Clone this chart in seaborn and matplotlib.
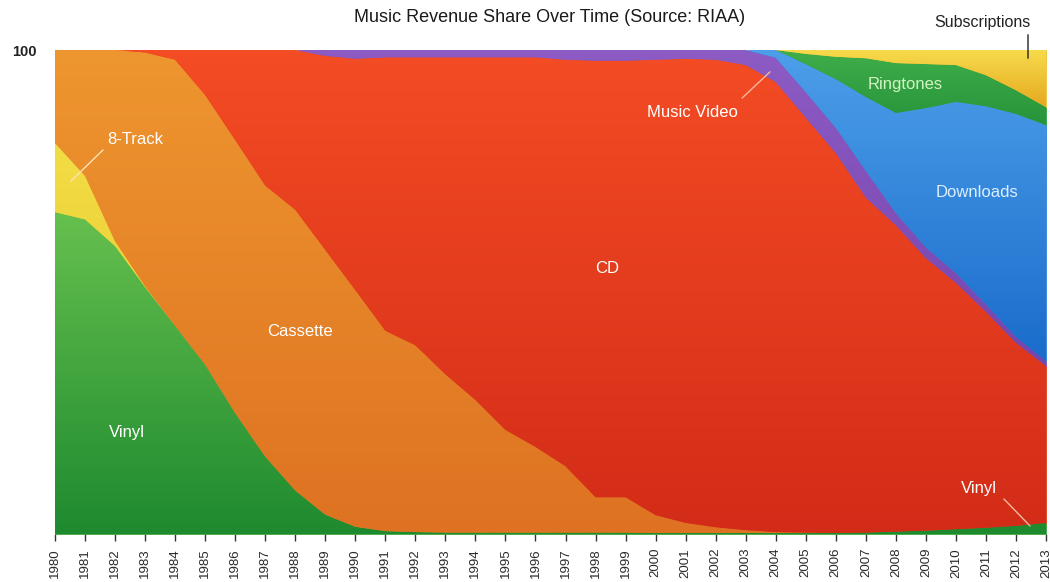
import numpy as np
import pandas as pd
import matplotlib
matplotlib.use("Agg")
import matplotlib.pyplot as plt
import seaborn as sns
from matplotlib.colors import LinearSegmentedColormap

# Revenue share by format, 1980-2013 (percent of yearly total)
years = list(range(1980, 2014))

vinyl = [66.5, 65.0, 59.5, 51.0, 43.0, 35.0, 25.0, 16.0, 9.0, 4.0,
         1.5, 0.6, 0.4, 0.3, 0.3, 0.3, 0.3, 0.3, 0.3, 0.3,
         0.2, 0.2, 0.2, 0.2, 0.2, 0.2, 0.2, 0.3, 0.5, 0.7,
         1.0, 1.3, 1.7, 2.3]
eight_track = [14.3, 9.0, 1.0, 0.2] + [0.0] * 30
cassette = [19.2, 26.0, 39.5, 48.3, 55.0, 55.7, 56.4, 56.0, 58.0, 54.7,
            48.9, 41.4, 38.6, 32.7, 27.4, 21.2, 17.7, 13.7, 7.3, 7.3,
            3.7, 2.1, 1.2, 0.6, 0.2, 0.1, 0.0, 0.0, 0.0, 0.0,
            0.0, 0.0, 0.0, 0.0]
cd = [0.0, 0.0, 0.0, 0.5, 2.0, 9.3, 18.6, 28.0, 33.0, 40.1,
      47.8, 56.5, 59.5, 65.5, 70.8, 77.0, 80.5, 84.0, 90.2, 90.2,
      94.1, 95.9, 96.6, 96.1, 93.0, 85.7, 78.5, 69.2, 63.3, 56.3,
      50.9, 44.6, 37.8, 32.4]
music_video = [0.0] * 9 + [1.2, 1.8, 1.5, 1.5, 1.5, 1.5, 1.5, 1.5, 2.0, 2.2,
                           2.2, 2.0, 1.8, 2.0, 3.1, 5.0, 5.3, 5.2, 5.5, 2.5,
                           2.2, 2.0, 1.5, 1.2, 1.0]
downloads = [0.0] * 24 + [1.6, 5.8, 10.1, 15.3, 20.7, 28.8, 35.4, 41.0, 46.1, 48.8]
ringtones = [0.0] * 25 + [2.1, 4.6, 8.0, 10.3, 9.1, 7.6, 6.4, 4.9, 3.7]
subscriptions = [0.0] * 25 + [0.8, 1.4, 1.7, 2.7, 2.9, 3.1, 5.2, 8.3, 11.8]

formats = ["Vinyl", "8-Track", "Cassette", "CD", "Music Video",
           "Downloads", "Ringtones", "Subscriptions"]
# (top colour, bottom colour) of the vertical gradient in each band
top_colors = ["#66c04e", "#f2dc44", "#ee962f", "#f44c24",
              "#8c5cc4", "#4d9fea", "#3fae4a", "#f7dc4c"]
bottom_colors = ["#1e8a2f", "#e6c22c", "#de7222", "#d22c18",
                 "#7646ae", "#1a6ccb", "#27943a", "#e6a820"]

df = pd.DataFrame(dict(zip(formats, [vinyl, eight_track, cassette, cd,
                                     music_video, downloads, ringtones,
                                     subscriptions])), index=years)
share = df.div(df.sum(axis=1), axis=0) * 100

sns.set_theme(style="white")
plt.rcParams["font.family"] = ["Liberation Sans", "DejaVu Sans"]

W, H = 1050, 582
fig = plt.figure(figsize=(W / 100, H / 100), dpi=100)
left, right, top, bottom = 55, 1046, 50, 534
ax = fig.add_axes([left / W, 1 - bottom / H, (right - left) / W, (bottom - top) / H])

mid_colors = [sns.blend_palette([t, b], 3)[1] for t, b in zip(top_colors, bottom_colors)]
polys = ax.stackplot(share.index, share.T.values, colors=mid_colors,
                     linewidth=0.6, edgecolors=mid_colors)

# paint each band with its own vertical gradient, clipped to the band shape
grad = np.linspace(0, 1, 256).reshape(-1, 1)
for poly, c_top, c_bot in zip(polys, top_colors, bottom_colors):
    poly.set_edgecolor(poly.get_facecolor())
    paths = poly.get_paths()
    if not paths:
        continue
    path = paths[0]
    verts = path.vertices
    ymin, ymax = verts[:, 1].min(), verts[:, 1].max()
    if ymax - ymin < 1e-6:
        continue
    cmap = LinearSegmentedColormap.from_list("band", [c_bot, c_top])
    im = ax.imshow(grad, cmap=cmap, origin="lower", aspect="auto",
                   extent=[years[0], years[-1], ymin, ymax],
                   interpolation="bilinear", zorder=poly.get_zorder() + 0.1)
    im.set_clip_path(path, transform=ax.transData)

ax.set_xlim(years[0], years[-1])
ax.set_ylim(0, 100)
sns.despine(ax=ax, left=True, bottom=True)

ax.set_xticks(years)
ax.set_xticklabels([str(y) for y in years], rotation=90, fontsize=9.5, color="#2a2a2a")
ax.tick_params(axis="x", bottom=True, length=5, width=1.0, color="#333333",
               direction="out", pad=5)
ax.set_yticks([100])
ax.set_yticklabels(["100"], fontsize=10.5, fontweight="bold", color="#222222")
ax.tick_params(axis="y", left=False, length=0, pad=13)
ax.grid(False)


def px(xp, yp):
    """Figure pixel position -> data coordinates."""
    xd = years[0] + (xp - left) / (right - left) * (years[-1] - years[0])
    yd = (bottom - yp) / (bottom - top) * 100
    return xd, yd


label_kw = dict(fontsize=12, zorder=10)
white = "#ffffff"

ax.text(*px(107, 139), "8-Track", color=white, ha="left", va="center", **label_kw)
ax.annotate("", xy=px(69, 183), xytext=px(105, 148),
            arrowprops=dict(arrowstyle="-", color="#fbe3b8", lw=1.0), zorder=10)
ax.text(*px(300, 331), "Cassette", color=white, ha="center", va="center", **label_kw)
ax.text(*px(127, 433), "Vinyl", color=white, ha="center", va="center", **label_kw)
ax.text(*px(607, 268), "CD", color=white, ha="center", va="center", **label_kw)
ax.text(*px(692, 112), "Music Video", color=white, ha="center", va="center", **label_kw)
ax.annotate("", xy=px(772, 70), xytext=px(740, 100),
            arrowprops=dict(arrowstyle="-", color="#f6b7a0", lw=1.0), zorder=10)
ax.text(*px(905, 84), "Ringtones", color="#d2f4c4", ha="center", va="center", **label_kw)
ax.text(*px(977, 192), "Downloads", color="#dcefff", ha="center", va="center", **label_kw)
ax.text(*px(979, 489), "Vinyl", color=white, ha="center", va="center", **label_kw)
ax.annotate("", xy=px(1032, 528), xytext=px(1002, 497),
            arrowprops=dict(arrowstyle="-", color="#f6b7a0", lw=1.0), zorder=10)

sx, sy = px(982, 23)
ax.text(sx, sy, "Subscriptions", color="#222222", ha="center", va="center",
        fontsize=11.5, clip_on=False, zorder=10)
ax.annotate("", xy=px(1028, 61), xytext=px(1028, 32),
            arrowprops=dict(arrowstyle="-", color="#222222", lw=1.0),
            annotation_clip=False, zorder=10)

fig.text(550 / W, 1 - 18 / H, "Music Revenue Share Over Time (Source: RIAA)",
         ha="center", va="center", fontsize=13, color="#1a1a1a")

fig.savefig("out.png", dpi=100, facecolor="white")
